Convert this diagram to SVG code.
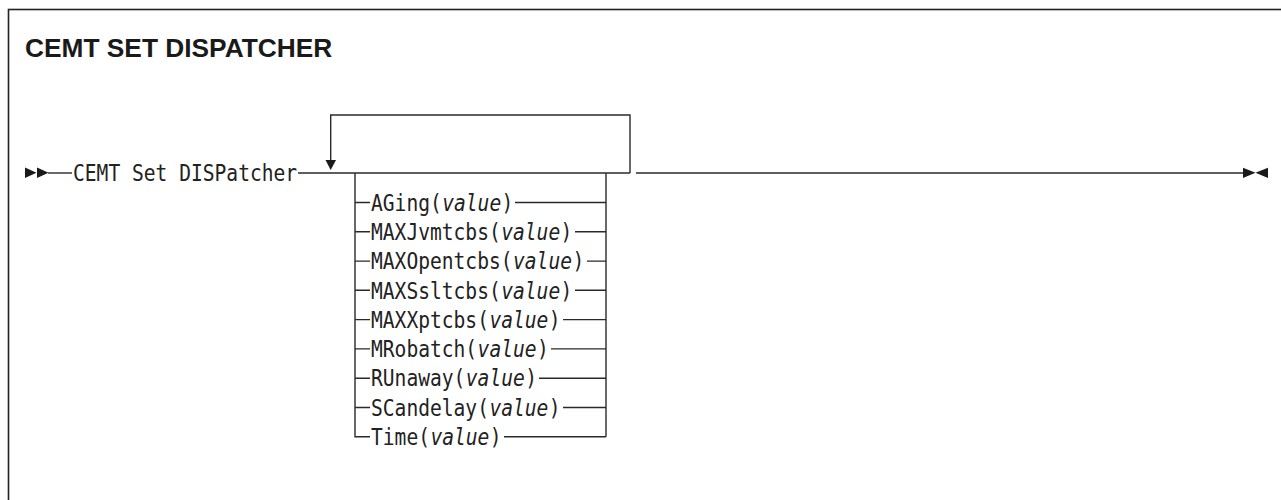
<svg xmlns="http://www.w3.org/2000/svg" width="1281" height="500" viewBox="0 0 1281 500">
<style>
.ln{fill:none;stroke:#2a2a2a;stroke-width:1.4}
.ah{fill:#1a1a1a;stroke:none}
.mono{font-family:"DejaVu Sans Mono","Liberation Mono",monospace;font-size:23px;fill:#222}
.it{font-style:italic}
.title{font-family:"Liberation Sans",Arial,sans-serif;font-weight:bold;font-size:26.3px;fill:#1a1a1a}
</style>
<rect x="8.5" y="9.5" width="1300" height="520" fill="#fff" stroke="#222" stroke-width="1.6"/>
<text class="title" x="25" y="57">CEMT SET DISPATCHER</text>
<g id="connectors">
<polygon class="ah" points="25,167.5 36.5,172.8 25,178"/>
<polygon class="ah" points="37,167.5 48.5,172.8 37,178"/>
<line class="ln" x1="48" y1="173" x2="72" y2="173"/>
<line class="ln" x1="298" y1="173" x2="630" y2="173"/>
<path class="ln" d="M630 173 V115 H330.7 V161"/>
<polygon class="ah" points="325.5,160 336,160 330.7,170"/>
<line class="ln" x1="636" y1="173" x2="1243" y2="173"/>
<polygon class="ah" points="1243,167.7 1255.5,172.8 1243,177.9"/>
<polygon class="ah" points="1268,167.7 1255.5,172.8 1268,177.9"/>
<path class="ln" d="M355 173 V436.7 H370"/>
<line class="ln" x1="606" y1="173" x2="606" y2="436.7"/>
<path class="ln" d="M355 202.5 H370 M355 231.8 H370 M355 261.1 H370 M355 290.3 H370 M355 319.6 H370 M355 348.9 H370 M355 378.2 H370 M355 407.5 H370"/>
<path class="ln" d="M515 202.5 H606 M575 231.8 H606 M587 261.1 H606 M575 290.3 H606 M563 319.6 H606 M551 348.9 H606 M539 378.2 H606 M563 407.5 H606 M504 436.7 H606"/>
</g>
<g id="start"><text class="mono" transform="matrix(0.8522 0 0 1 73 180.5)">CEMT Set DISPatcher</text></g>
<g id="opt-aging">
<text class="mono" transform="matrix(0.8522 0 0 1 371 210.7)">AGing(</text>
<text class="mono it" transform="matrix(0.8522 0 0 1 442.2 210.7)">value</text>
<text class="mono" transform="matrix(0.8522 0 0 1 501.6 210.7)">)</text>
</g>
<g id="opt-maxjvmtcbs">
<text class="mono" transform="matrix(0.8522 0 0 1 371 240)">MAXJvmtcbs(</text>
<text class="mono it" transform="matrix(0.8522 0 0 1 501.2 240)">value</text>
<text class="mono" transform="matrix(0.8522 0 0 1 560.6 240)">)</text>
</g>
<g id="opt-maxopentcbs">
<text class="mono" transform="matrix(0.8522 0 0 1 371 269.3)">MAXOpentcbs(</text>
<text class="mono it" transform="matrix(0.8522 0 0 1 513 269.3)">value</text>
<text class="mono" transform="matrix(0.8522 0 0 1 572.4 269.3)">)</text>
</g>
<g id="opt-maxsslcbs">
<text class="mono" transform="matrix(0.8522 0 0 1 371 298.5)">MAXSsltcbs(</text>
<text class="mono it" transform="matrix(0.8522 0 0 1 501.2 298.5)">value</text>
<text class="mono" transform="matrix(0.8522 0 0 1 560.6 298.5)">)</text>
</g>
<g id="opt-maxxptcbs">
<text class="mono" transform="matrix(0.8522 0 0 1 371 327.8)">MAXXptcbs(</text>
<text class="mono it" transform="matrix(0.8522 0 0 1 489.4 327.8)">value</text>
<text class="mono" transform="matrix(0.8522 0 0 1 548.8 327.8)">)</text>
</g>
<g id="opt-mrobatch">
<text class="mono" transform="matrix(0.8522 0 0 1 371 357.1)">MRobatch(</text>
<text class="mono it" transform="matrix(0.8522 0 0 1 477.6 357.1)">value</text>
<text class="mono" transform="matrix(0.8522 0 0 1 537 357.1)">)</text>
</g>
<g id="opt-runaway">
<text class="mono" transform="matrix(0.8522 0 0 1 371 386.4)">RUnaway(</text>
<text class="mono it" transform="matrix(0.8522 0 0 1 465.8 386.4)">value</text>
<text class="mono" transform="matrix(0.8522 0 0 1 525.2 386.4)">)</text>
</g>
<g id="opt-scandelay">
<text class="mono" transform="matrix(0.8522 0 0 1 371 415.7)">SCandelay(</text>
<text class="mono it" transform="matrix(0.8522 0 0 1 489.4 415.7)">value</text>
<text class="mono" transform="matrix(0.8522 0 0 1 548.8 415.7)">)</text>
</g>
<g id="opt-time">
<text class="mono" transform="matrix(0.8522 0 0 1 371 444.9)">Time(</text>
<text class="mono it" transform="matrix(0.8522 0 0 1 430.4 444.9)">value</text>
<text class="mono" transform="matrix(0.8522 0 0 1 489.8 444.9)">)</text>
</g>
</svg>
